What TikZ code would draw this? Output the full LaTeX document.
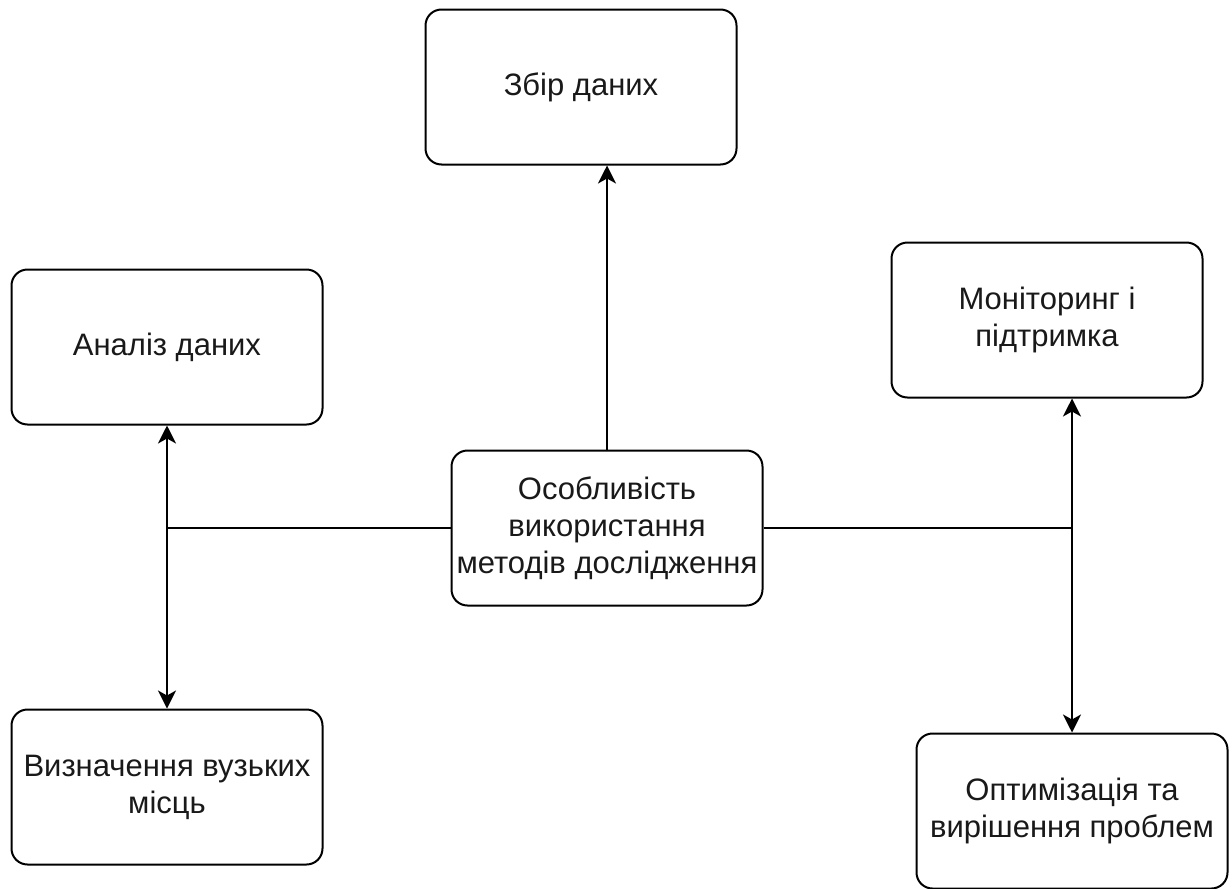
\documentclass[tikz,border=0pt]{standalone}
\usepackage{fontspec}
\setmainfont{Liberation Sans}
\usetikzlibrary{arrows.meta}

\def\boxwidth{155.5pt}
\def\boxheight{77.5pt}

\begin{document}
\begin{tikzpicture}[x=0.5pt,y=-0.5pt,line width=1pt]
    \tikzstyle{block}=[draw,rounded corners=8pt,minimum width=\boxwidth,minimum height=\boxheight,inner sep=0pt,align=center,text=black!90,font=\fontsize{15.5}{18.5}\selectfont]
    \tikzstyle{main block}=[block];
    \tikzstyle{one way}=[-{Stealth[length=9pt,width=9pt,inset=2.5pt]}]
    \tikzstyle{two way}=[{Stealth[length=9pt,width=9pt,inset=2.5pt]}-{Stealth[length=9pt,width=9pt,inset=2.5pt]}]

    \useasboundingbox (0,0) rectangle (1232,889);

    % Draw the central node
    \node[main block] (method) at (607,528) {Особливість\\використання\\методів дослідження};

    % Draw the outer nodes
    \node[block] (collect) at (581,87) {Збір даних};
    \node[block] (analyse) at (167,347) {Аналіз даних};
    \node[block] (narrow) at (167,787) {Визначення вузьких\\місць};
    \node[block] (monitor) at (1047,320) {Моніторинг і\\підтримка};
    \node[block] (optimise) at (1072,811) {Оптимізація та\\вирішення проблем};

    % Branch points of the side lines
    \coordinate (left fork) at (method.west -| analyse.south);
    \coordinate (right fork) at (method.east -| optimise.north);

    % Connect the central node with the outer nodes
    \draw[one way] (method.north) -- (method.north |- collect.south);
    \draw (method.west) -- (left fork);
    \draw[two way] (analyse.south) -- (narrow.north);
    \draw (method.east) -- (right fork);
    \draw[two way] (optimise.north |- monitor.south) -- (optimise.north);
\end{tikzpicture}
\end{document}
